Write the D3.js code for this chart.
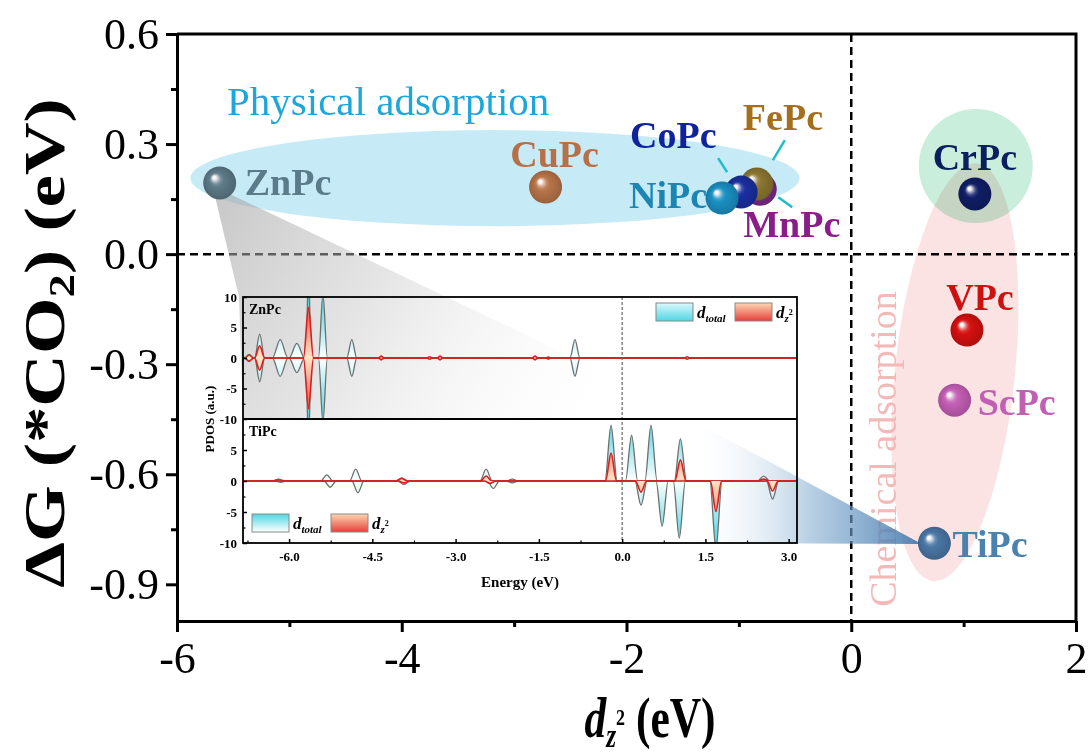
<!DOCTYPE html>
<html>
<head>
<meta charset="utf-8">
<title>dz2 vs dG</title>
<script src="https://cdn.jsdelivr.net/npm/d3@7"></script>
<style>
body { margin: 0; background: #fff; }
svg text { font-family: "Liberation Serif", "Times New Roman", serif; }
</style>
</head>
<body>
<script>
// ---- main scatter data ----
var names = ["ZnPc", "CuPc", "MnPc", "FePc", "CoPc", "NiPc", "CrPc", "VPc", "ScPc", "TiPc"];
var dz2   = [-5.62, -2.72, -0.81, -0.84, -0.98, -1.15, 1.10, 1.03, 0.92, 0.74];
var dG    = [0.194, 0.183, 0.177, 0.191, 0.169, 0.153, 0.164, -0.207, -0.398, -0.788];

var xTicks = [-6, -4, -2, 0, 2];
var yTicks = [-0.9, -0.6, -0.3, 0.0, 0.3, 0.6];

// ---- inset PDOS peaks: [energy, height, half width] ----
var znTotal = [[-6.72, 0.6, 0.08], [-6.53, 3.9, 0.09], [-6.16, 3.0, 0.14], [-5.86, 2.4, 0.14],
               [-5.65, 14, 0.05], [-5.39, 10.5, 0.08], [-4.87, 3.0, 0.09], [-0.85, 3.0, 0.09]];
var znDz2   = [[-6.72, 0.5, 0.08], [-6.53, 2.0, 0.09], [-5.65, 8.3, 0.09], [-4.34, 0.3, 0.05],
               [-3.47, 0.2, 0.05], [-3.28, 0.3, 0.05], [-1.57, 0.3, 0.05], [-1.33, 0.15, 0.04], [1.17, 0.2, 0.05]];
var tiTotalUp = [[-6.19, 0.3], [-5.32, 1.0], [-4.80, 1.9], [-3.97, 0.5], [-2.45, 1.9], [-1.98, 0.3],
                 [-0.20, 9.0], [0.17, 7.4], [0.52, 9.0], [1.05, 6.8], [2.55, 0.8]];
var tiTotalDn = [[-6.15, -0.2], [-5.26, -1.0], [-4.76, -1.9], [-3.93, -0.6], [-2.32, -1.2], [-1.98, -0.3],
                 [0.34, -3.9], [0.72, -7.3], [1.03, -9.2], [1.69, -11], [2.71, -2.9]];
var tiDz2Up = [[-6.19, 0.2], [-3.97, 0.4], [-2.45, 0.8], [-0.20, 4.5], [1.05, 3.4], [2.55, 0.3]];
var tiDz2Dn = [[-3.93, -0.3], [-2.38, -0.4], [0.34, -1.8], [1.69, -4.9], [2.71, -1.6]];

var inXTicks = [-6.0, -4.5, -3.0, -1.5, 0.0, 1.5, 3.0];

// ---- styles ----
var sphereColor = {ZnPc: "#5d7b88", CuPc: "#b87448", NiPc: "#1a8fc2", CoPc: "#1a2fa0", FePc: "#8b7530",
                   MnPc: "#7a2a88", CrPc: "#101e66", VPc: "#d51010", ScPc: "#c45fb5", TiPc: "#4a76a5"};
var labelColor = {ZnPc: "#5b7b8a", CuPc: "#b67049", NiPc: "#1b86b4", CoPc: "#10239b", FePc: "#a36f1f",
                  MnPc: "#8b1d8b", CrPc: "#0a1f5e", VPc: "#cc1111", ScPc: "#c05fb3", TiPc: "#4a82ad"};
// label offset from point in px: [dx, dy, anchor]
var labelPos = {ZnPc: [25, 12, "start"], CuPc: [9, -20, "middle"], CoPc: [-111, -44, "start"],
                FePc: [-14, -54, "start"], NiPc: [-15, 10, "end"], MnPc: [-17, 48, "start"],
                CrPc: [0, -24, "middle"], VPc: [13, -20, "middle"], ScPc: [23, 15, "start"], TiPc: [18, 14, "start"]};
var connectors = {CoPc: [[-23, -34], [-14, -20]], FePc: [[28, -44], [16, -24]], MnPc: [[18, 8], [32, 18]]};

var W = 1089, H = 754;
var svg = d3.select("body").append("svg").attr("width", W).attr("height", H);
var defs = svg.append("defs");

var x = d3.scaleLinear().domain([-6, 2]).range([177, 1076]);
var y = d3.scaleLinear().domain([-1.0, 0.6]).range([621, 34]);

// ---- background regions ----
svg.append("ellipse")
  .attr("cx", x(-3.17)).attr("cy", y(0.207))
  .attr("rx", x(-3.17 + 2.71) - x(-3.17)).attr("ry", y(0.207 - 0.131) - y(0.207))
  .style("fill", "#c6ebf7");
svg.append("ellipse")
  .attr("cx", x(1.108)).attr("cy", y(0.240)).attr("rx", 57).attr("ry", 57)
  .style("fill", "#c9eedb");
svg.append("ellipse")
  .attr("transform", "translate(" + x(0.922) + "," + y(-0.322) + ") rotate(6)")
  .attr("rx", 60).attr("ry", 210)
  .style("fill", "#fce3e3").style("mix-blend-mode", "multiply");

svg.append("text").attr("x", 227).attr("y", 115)
  .attr("font-size", 41).style("fill", "#1ea6da").text("Physical adsorption");
svg.append("text").attr("transform", "translate(896,449) rotate(-90)")
  .attr("text-anchor", "middle").attr("font-size", 38).style("fill", "#f3b9b9").text("Chemical adsorption");

// ---- dashed zero lines ----
svg.append("line").attr("x1", x(0)).attr("x2", x(0)).attr("y1", y(0.6)).attr("y2", y(-1.0))
  .style("stroke", "#000").style("stroke-width", 2.5).style("stroke-dasharray", "8,5");
svg.append("line").attr("x1", x(-6)).attr("x2", x(2)).attr("y1", y(0)).attr("y2", y(0))
  .style("stroke", "#000").style("stroke-width", 2.5).style("stroke-dasharray", "8,5");

// ---- axes ----
function styleAxis(g, fs) {
  g.attr("font-family", "Liberation Serif").attr("font-size", fs);
  g.selectAll("path, line").style("stroke", "#000").style("stroke-width", 3);
  g.selectAll("text").style("fill", "#000");
}
svg.append("g").attr("transform", "translate(177,0)")
  .call(d3.axisLeft(y).tickValues(yTicks).tickFormat(function(d) { return d.toFixed(1); })
        .tickSize(11).tickSizeOuter(0).tickPadding(7))
  .call(styleAxis, 44);
svg.append("g").attr("transform", "translate(177,0)")
  .call(d3.axisLeft(y).tickValues([-0.75, -0.45, -0.15, 0.15, 0.45]).tickFormat("").tickSize(6).tickSizeOuter(0))
  .call(styleAxis, 44);
svg.append("g").attr("transform", "translate(0,621)")
  .call(d3.axisBottom(x).tickValues(xTicks).tickFormat(function(d) { return String(d); })
        .tickSize(11).tickSizeOuter(0).tickPadding(10))
  .call(styleAxis, 44);
svg.append("g").attr("transform", "translate(0,621)")
  .call(d3.axisBottom(x).tickValues([-5, -3, -1, 1]).tickFormat("").tickSize(6).tickSizeOuter(0))
  .call(styleAxis, 44);
svg.append("path").attr("d", "M" + x(-6) + "," + y(0.6) + "H" + x(2) + "V" + y(-1.0))
  .style("fill", "none").style("stroke", "#000").style("stroke-width", 3);

// axis titles (the original figure is stretched, so are these)
var yt = svg.append("text").attr("transform", "translate(64,343) rotate(-90) scale(1.3,1)")
  .attr("text-anchor", "middle").attr("font-size", 56).attr("font-weight", "bold");
yt.append("tspan").text("\u0394G (*CO");
yt.append("tspan").attr("font-size", 36).attr("dy", 10).text("2");
yt.append("tspan").attr("dy", -10).text(") (eV)");
var xt = svg.append("text").attr("transform", "translate(650,737) scale(0.75,1)")
  .attr("text-anchor", "middle").attr("font-size", 58).attr("font-weight", "bold");
xt.append("tspan").attr("font-style", "italic").text("d");
xt.append("tspan").attr("font-style", "italic").attr("font-size", 34).attr("dy", 10).text("z");
xt.append("tspan").attr("font-size", 24).attr("dy", -22).text("2");
xt.append("tspan").attr("dy", 12).text(" (eV)");

// ---- inset ----
var inX0 = 243, inX1 = 797, inY0 = 297, inMid = 419, inY1 = 543;
var xIn = d3.scaleLinear().domain([-6.83, 3.15]).range([inX0, inX1]);
var yTop = d3.scaleLinear().domain([-10, 10]).range([inMid, inY0]);
var yBot = d3.scaleLinear().domain([-10, 10]).range([inY1, inMid]);

svg.append("rect").attr("x", inX0).attr("y", inY0).attr("width", inX1 - inX0).attr("height", inY1 - inY0)
  .style("fill", "#fff");

// zoom wedges
var iZn = names.indexOf("ZnPc"), iTi = names.indexOf("TiPc");
var greyG = defs.append("linearGradient").attr("id", "greyWedge").attr("gradientUnits", "userSpaceOnUse")
  .attr("x1", x(dz2[iZn])).attr("y1", y(dG[iZn])).attr("x2", 620).attr("y2", inMid);
greyG.append("stop").attr("offset", 0).attr("stop-color", "#a2a2a2").attr("stop-opacity", 0.6);
greyG.append("stop").attr("offset", 0.4).attr("stop-color", "#c4c4c4").attr("stop-opacity", 0.45);
greyG.append("stop").attr("offset", 1).attr("stop-color", "#ffffff").attr("stop-opacity", 0);
svg.append("path")
  .attr("d", d3.line()([[x(dz2[iZn]) - 6, y(dG[iZn]) + 8], [inX0 - 4, inY0], [inX0, inMid], [inX0 + 460, inMid],
                        [x(dz2[iZn]) + 8, y(dG[iZn]) + 10]]) + "Z")
  .style("fill", "url(#greyWedge)");

var blueG = defs.append("linearGradient").attr("id", "blueWedge").attr("gradientUnits", "userSpaceOnUse")
  .attr("x1", x(dz2[iTi])).attr("y1", 0).attr("x2", 690).attr("y2", 0);
blueG.append("stop").attr("offset", 0).attr("stop-color", "#3a70a8").attr("stop-opacity", 0.95);
blueG.append("stop").attr("offset", 0.5).attr("stop-color", "#7aa6cc").attr("stop-opacity", 0.55);
blueG.append("stop").attr("offset", 1).attr("stop-color", "#ffffff").attr("stop-opacity", 0);
svg.append("path")
  .attr("d", d3.line()([[x(dz2[iTi]) - 14, y(dG[iTi])], [690, inMid], [690, inY1], [x(dz2[iTi]) - 14, inY1 + 1]]) + "Z")
  .style("fill", "url(#blueWedge)");

// gradient fills for PDOS
function fillGrad(id, y0, y1, mid, edge) {
  var g = defs.append("linearGradient").attr("id", id).attr("gradientUnits", "userSpaceOnUse")
    .attr("x1", 0).attr("x2", 0).attr("y1", y0).attr("y2", y1);
  g.append("stop").attr("offset", 0).attr("stop-color", edge);
  g.append("stop").attr("offset", 0.5).attr("stop-color", mid);
  g.append("stop").attr("offset", 1).attr("stop-color", edge);
}
fillGrad("totTop", inY0, inMid, "#ffffff", "#47d4e2");
fillGrad("totBot", inMid, inY1, "#ffffff", "#47d4e2");
fillGrad("dzTop", inY0, inMid, "#fde6c6", "#e4352f");
fillGrad("dzBot", inMid, inY1, "#fde6c6", "#e4352f");

function peakPoints(peaks, hw) {
  var pts = [[xIn.domain()[0], 0]];
  peaks.forEach(function(p) {
    var w = p[2] || hw;
    pts.push([p[0] - w, 0], [p[0], p[1]], [p[0] + w, 0]);
  });
  pts.push([xIn.domain()[1], 0]);
  return pts;
}
function mirror(peaks) { return peaks.map(function(p) { return [p[0], -p[1], p[2]]; }); }

var panels = [
  {label: "ZnPc", ys: yTop, clip: "clipTop", y0: inY0, y1: inMid, tot: [znTotal, mirror(znTotal)],
   dz: [znDz2, mirror(znDz2)], totFill: "totTop", dzFill: "dzTop", ticks: [-10, -5, 0, 5, 10]},
  {label: "TiPc", ys: yBot, clip: "clipBot", y0: inMid, y1: inY1, tot: [tiTotalUp, tiTotalDn],
   dz: [tiDz2Up, tiDz2Dn], totFill: "totBot", dzFill: "dzBot", ticks: [-10, -5, 0, 5]}
];

panels.forEach(function(p) {
  defs.append("clipPath").attr("id", p.clip).append("rect")
    .attr("x", inX0).attr("y", p.y0).attr("width", inX1 - inX0).attr("height", p.y1 - p.y0);
  var g = svg.append("g").attr("clip-path", "url(#" + p.clip + ")");
  var area = d3.area().curve(d3.curveMonotoneX)
    .x(function(d) { return xIn(d[0]); }).y0(p.ys(0)).y1(function(d) { return p.ys(d[1]); });
  var line = d3.line().curve(d3.curveMonotoneX)
    .x(function(d) { return xIn(d[0]); }).y(function(d) { return p.ys(d[1]); });
  p.tot.forEach(function(s) {
    var pts = peakPoints(s, 0.11);
    g.append("path").attr("d", area(pts)).style("fill", "url(#" + p.totFill + ")");
    g.append("path").attr("d", line(pts)).style("fill", "none").style("stroke", "#6e6e6e").style("stroke-width", 1.3);
  });
  p.dz.forEach(function(s) {
    var pts = peakPoints(s, 0.1);
    g.append("path").attr("d", area(pts)).style("fill", "url(#" + p.dzFill + ")");
    g.append("path").attr("d", line(pts)).style("fill", "none").style("stroke", "#d42020").style("stroke-width", 1.6);
  });
  // y axis
  svg.append("g").attr("transform", "translate(" + inX0 + ",0)")
    .call(d3.axisLeft(p.ys).tickValues(p.ticks).tickSize(-4).tickSizeOuter(0).tickPadding(6))
    .call(function(a) {
      a.attr("font-family", "Liberation Serif").attr("font-size", 13).attr("font-weight", "bold");
      a.select(".domain").remove();
      a.selectAll("line").style("stroke", "#000").style("stroke-width", 1.5);
      a.selectAll("text").style("fill", "#000").text(function(d) { return String(d); });
    });
  svg.append("g").attr("transform", "translate(" + inX0 + ",0)")
    .call(d3.axisLeft(p.ys).tickValues([-7.5, -2.5, 2.5, 7.5]).tickFormat("").tickSize(-2.5).tickSizeOuter(0))
    .call(function(a) { a.select(".domain").remove(); a.selectAll("line").style("stroke", "#000").style("stroke-width", 1.2); });
  svg.append("text").attr("x", inX0 + 6).attr("y", p.y0 + 17)
    .attr("font-size", 14).attr("font-weight", "bold").text(p.label);
});

// fermi level
svg.append("line").attr("x1", xIn(0)).attr("x2", xIn(0)).attr("y1", inY0).attr("y2", inY1)
  .style("stroke", "#666").style("stroke-width", 1.2).style("stroke-dasharray", "3,2");

// inset x axis
svg.append("g").attr("transform", "translate(0," + inY1 + ")")
  .call(d3.axisBottom(xIn).tickValues(inXTicks).tickFormat(function(d) { return d.toFixed(1); })
        .tickSize(-4).tickSizeOuter(0).tickPadding(9))
  .call(function(a) {
    a.attr("font-family", "Liberation Serif").attr("font-size", 13).attr("font-weight", "bold");
    a.select(".domain").remove();
    a.selectAll("line").style("stroke", "#000").style("stroke-width", 1.5);
    a.selectAll("text").style("fill", "#000");
  });
svg.append("g").attr("transform", "translate(0," + inY1 + ")")
  .call(d3.axisBottom(xIn).tickValues([-6.75, -5.25, -3.75, -2.25, -0.75, 0.75, 2.25]).tickFormat("").tickSize(-2.5).tickSizeOuter(0))
  .call(function(a) { a.select(".domain").remove(); a.selectAll("line").style("stroke", "#000").style("stroke-width", 1.2); });

// frames
svg.append("rect").attr("x", inX0).attr("y", inY0).attr("width", inX1 - inX0).attr("height", inY1 - inY0)
  .style("fill", "none").style("stroke", "#000").style("stroke-width", 1.8);
svg.append("line").attr("x1", inX0).attr("x2", inX1).attr("y1", inMid).attr("y2", inMid)
  .style("stroke", "#000").style("stroke-width", 1.8);

svg.append("text").attr("transform", "translate(214," + inMid + ") rotate(-90)")
  .attr("text-anchor", "middle").attr("font-size", 13).attr("font-weight", "bold").text("PDOS (a.u.)");
svg.append("text").attr("x", 520).attr("y", 587)
  .attr("text-anchor", "middle").attr("font-size", 15).attr("font-weight", "bold").text("Energy (eV)");

// legends
function swatchGrad(id, top, bottom) {
  var g = defs.append("linearGradient").attr("id", id).attr("x1", 0).attr("x2", 0).attr("y1", 0).attr("y2", 1);
  g.append("stop").attr("offset", 0).attr("stop-color", top);
  g.append("stop").attr("offset", 1).attr("stop-color", bottom);
}
swatchGrad("swCyanA", "#dcf8fc", "#4fd6e4");
swatchGrad("swCyanB", "#4fd6e4", "#ffffff");
swatchGrad("swRed", "#fcd7b2", "#e6403a");

function legend(lx, ly, cyan) {
  svg.append("rect").attr("x", lx).attr("y", ly).attr("width", 37).attr("height", 18)
    .style("fill", "url(#" + cyan + ")").style("stroke", "#888").style("stroke-width", 1);
  var t1 = svg.append("text").attr("x", lx + 41).attr("y", ly + 15)
    .attr("font-size", 17).attr("font-weight", "bold").attr("font-style", "italic");
  t1.append("tspan").text("d");
  t1.append("tspan").attr("font-size", 11).attr("dy", 4).text("total");
  svg.append("rect").attr("x", lx + 79).attr("y", ly).attr("width", 37).attr("height", 18)
    .style("fill", "url(#swRed)").style("stroke", "#888").style("stroke-width", 1);
  var t2 = svg.append("text").attr("x", lx + 120).attr("y", ly + 15)
    .attr("font-size", 17).attr("font-weight", "bold").attr("font-style", "italic");
  t2.append("tspan").text("d");
  t2.append("tspan").attr("font-size", 11).attr("dy", 4).text("z");
  t2.append("tspan").attr("font-size", 8).attr("dy", -7).attr("font-style", "normal").text("2");
}
legend(656, 303, "swCyanA");
legend(252, 514, "swCyanB");

// ---- spheres ----
names.forEach(function(n) {
  var c = d3.color(sphereColor[n]);
  var g = defs.append("radialGradient").attr("id", "sph" + n)
    .attr("cx", "50%").attr("cy", "50%").attr("r", "50%").attr("fx", "32%").attr("fy", "32%");
  g.append("stop").attr("offset", 0).attr("stop-color", "#ffffff");
  g.append("stop").attr("offset", 0.1).attr("stop-color", "#f4f4f4");
  g.append("stop").attr("offset", 0.2).attr("stop-color", d3.interpolateRgb(c, "#fff")(0.55));
  g.append("stop").attr("offset", 0.32).attr("stop-color", d3.interpolateRgb(c, "#fff")(0.15));
  g.append("stop").attr("offset", 0.45).attr("stop-color", c.formatHex());
  g.append("stop").attr("offset", 1).attr("stop-color", c.darker(0.5).formatHex());
});

svg.selectAll("circle.sph").data(names).enter().append("circle")
  .attr("class", "sph")
  .attr("cx", function(d, i) { return x(dz2[i]); })
  .attr("cy", function(d, i) { return y(dG[i]); })
  .attr("r", 16.5)
  .style("fill", function(d) { return "url(#sph" + d + ")"; });

// connectors
Object.keys(connectors).forEach(function(n) {
  var i = names.indexOf(n), s = connectors[n];
  svg.append("line")
    .attr("x1", x(dz2[i]) + s[0][0]).attr("y1", y(dG[i]) + s[0][1])
    .attr("x2", x(dz2[i]) + s[1][0]).attr("y2", y(dG[i]) + s[1][1])
    .style("stroke", "#22bcc6").style("stroke-width", 2.5);
});

// labels
svg.selectAll("text.lab").data(names).enter().append("text")
  .attr("class", "lab")
  .attr("x", function(d, i) { return x(dz2[i]) + labelPos[d][0]; })
  .attr("y", function(d, i) { return y(dG[i]) + labelPos[d][1]; })
  .attr("text-anchor", function(d) { return labelPos[d][2]; })
  .attr("font-size", 38).attr("font-weight", "bold")
  .style("fill", function(d) { return labelColor[d]; })
  .text(function(d) { return d; });
</script>
</body>
</html>
